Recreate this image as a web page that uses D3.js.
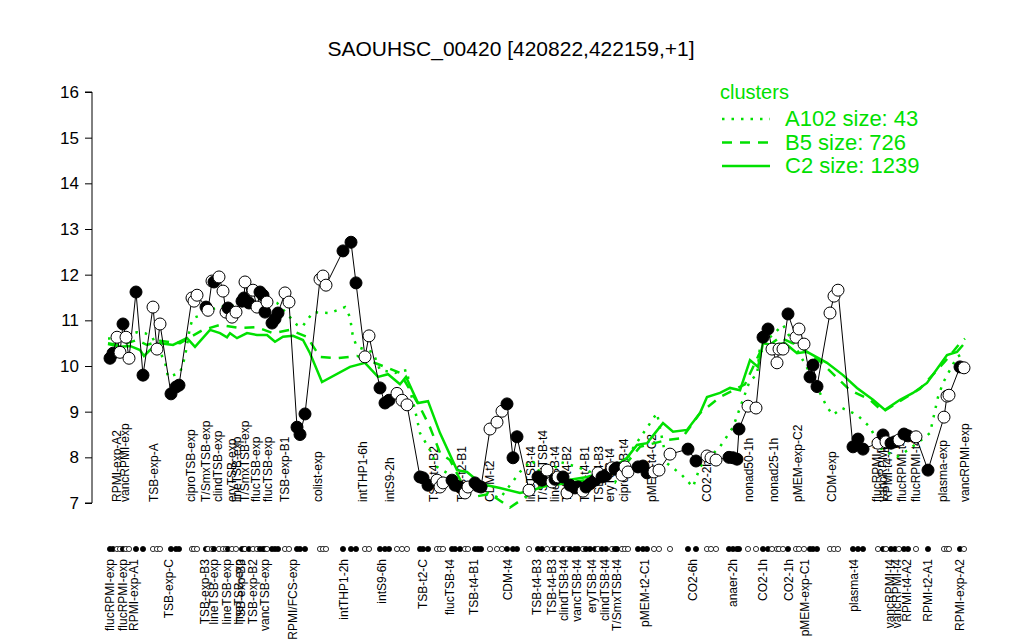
<!DOCTYPE html>
<html><head><meta charset="utf-8">
<script src="https://cdn.jsdelivr.net/npm/d3@7"></script>
<style>body{margin:0;background:#fff}svg{display:block;font-family:"Liberation Sans",Arial,sans-serif}</style>
</head><body><svg id="c" width="1024" height="640"></svg>
<script>
const title = "SAOUHSC_00420 [420822,422159,+1]";
const yTicks = [7,8,9,10,11,12,13,14,15,16];
// sample positions (arbitrary ordering units), expression values, filled flag
const pointPos = [10,13,17,20,23,26,29,36,43,53,57,60,71,76,79,92,94,97,106,108,112,114,119,123,126,128,132,136,142,144,145,149,153,157,160,163,165,167,172,175,178,185,189,197,200,205,220,223,226,243,251,256,265,269,280,285,289,297,302,307,320,323,328,337,340,343,352,355,360,365,368,375,378,381,390,397,402,407,413,417,429,438,442,447,452,455,458,463,467,470,475,478,483,486,490,495,498,502,506,512,515,517,522,525,528,538,543,547,554,559,570,588,596,607,611,616,629,633,637,639,648,656,663,668,672,677,679,683,688,696,699,704,710,713,717,730,734,738,753,758,763,778,783,786,791,795,799,804,808,816,828,844,847,849,860,864];
const pointVal = [10.17,10.28,10.63,10.30,10.92,10.63,10.17,11.62,9.80,11.29,10.37,10.92,9.39,9.54,9.58,11.49,11.42,11.55,11.29,11.22,11.86,11.84,11.95,11.64,11.18,11.27,11.07,11.18,11.42,11.49,11.84,11.38,11.66,11.29,11.62,11.55,11.18,11.40,10.94,11.03,11.16,11.60,11.40,8.66,8.50,8.95,11.90,11.97,11.77,12.52,12.71,11.82,10.20,10.66,9.52,9.19,9.25,9.40,9.25,9.15,7.57,7.55,7.39,7.50,7.35,7.44,7.50,7.39,7.35,7.22,7.35,7.44,7.37,7.35,8.62,8.77,9.01,9.17,7.99,8.45,7.28,7.57,7.50,7.72,7.46,7.52,7.57,7.57,7.22,7.39,7.33,7.35,7.26,7.35,7.42,7.50,7.66,7.57,7.61,7.77,7.74,7.77,7.61,7.79,7.68,7.79,7.81,7.66,7.68,7.72,8.07,8.18,7.92,8.03,7.99,7.94,8.00,7.99,7.96,8.62,9.12,9.08,10.63,10.81,10.37,10.07,10.37,10.37,11.14,10.63,10.81,10.48,9.76,10.02,9.55,11.16,11.53,11.66,8.23,8.40,8.18,8.31,8.49,8.34,8.31,8.34,8.38,8.51,8.47,8.45,7.72,8.88,9.34,9.36,9.98,9.96];
const pointFilled = [1,1,0,0,1,0,0,1,1,0,0,0,1,1,1,0,0,0,1,0,0,1,0,0,0,1,0,0,1,1,0,1,0,0,1,1,1,0,1,1,1,0,0,1,1,1,0,0,0,1,1,1,0,0,1,1,1,0,0,0,1,1,1,0,0,0,1,1,1,0,0,1,1,1,0,0,0,1,1,1,0,1,1,0,0,1,0,1,0,1,1,1,0,1,1,1,0,1,1,0,1,1,0,0,0,1,1,1,0,0,0,1,1,0,0,0,1,1,1,1,0,0,1,1,0,0,0,0,1,0,0,0,1,1,1,0,0,0,1,1,1,0,1,0,1,1,0,1,1,0,1,0,0,0,1,0];

const bottomLabelPos = [10,23,34,69,105,114,127,139,141,153,165,193,244,282,323,350,374,408,437,452,464,477,492,505,517,545,593,633,663,689,705,754,790,797,807,828,860];
const bottomLabels = ["flucRPMI-exp","flucRPMI-exp","RPMI-exp-A1","TSB-exp-C","TSB-exp-B3","lineTSB-exp","lineTSB-exp","lineTSB-exp","TSB-exp-B3","TSB-exp-B2","vancTSB-exp","RPMI/FCS-exp","intTHP1-2h","intS9-6h","TSB-t2-C","flucTSB-t4","TSB-t4-B1","CDM-t4","TSB-t4-B3","TSB-t4-B3","clindTSB-t4","vancTSB-t4","eryTSB-t4","clindTSB-t4","T/SmxTSB-t4","pMEM-t2-C1","CO2-6h","anaer-2h","CO2-1h","CO2-1h","pMEM-exp-C1","plasma-t4","vancRPMI-t4","vancRPMI-t4","RPMI-t4-A2","RPMI-t2-A1","RPMI-exp-A2"];

const topLabelPos = [17,25,54,91,106,118,132,137,145,156,168,185,218,263,290,334,362,390,431,443,455,467,485,499,510,524,552,607,649,674,698,732,777,783,788,802,816,843,865];
const topLabels = ["RPMI-exp-A2","vancRPMI-exp","TSB-exp-A","ciproTSB-exp","T/SmxTSB-exp","clindTSB-exp","eryTSB-exp","lineTSB-exp","T/SmxTSB-exp","flucTSB-exp","flucTSB-exp","TSB-exp-B1","colist-exp","intTHP1-6h","intS9-2h","TSB-t4-B2","TSB-t2-B1","CDM-t2","lineTSB-t4","T/SmxTSB-t4","lineTSB-t4","TSB-t4-B2","TSB-t4-B1","TSB-t4-B3","eryTSB-t4","ciproTSB-t4","pMEM-t4-C2","CO2-2h","nonad50-1h","nonad25-1h","pMEM-exp-C2","CDM-exp","flucRPMI-t4","vancRPMI-t4","RPMI-t4-A2","flucRPMI-t4","flucRPMI-t4","plasma-exp","vancRPMI-exp"];

const clusterNames = ["A102 size: 43","B5 size: 726","C2 size: 1239"];
const a102Pos = [8,20,37,45,52,65,68,80,85,90,93,102,117,140,157,177,197,202,213,230,245,250,253,257,273,280,295,307,310,315,320,330,337,347,360,380,400,420,432,445,460,477,500,515,533,557,567,582,593,600,620,633,650,657,660,683,710,727,733,742,757,770,782,797,808,817,830,838,843,857,865];
const a102Val = [10.6,10.6,10.74,10.72,10.64,10.09,9.76,9.85,10.2,10.85,11.05,11.12,11.29,11.33,11.49,11.38,10.9,10.85,11.18,11.16,11.29,11.07,10.63,10.42,10.3,9.91,9.85,9.91,9.47,9.04,8.53,8.16,7.79,7.66,7.45,7.3,7.1,7.68,7.94,7.5,7.9,7.79,7.6,7.45,8.2,8.97,7.87,7.61,7.35,7.79,8.23,8.66,9.69,9.8,10.42,10.9,9.85,9.1,8.93,9.08,8.93,8.66,8.16,8.01,8.16,8.31,8.53,9.32,9.63,10.2,10.3];
const b5Pos = [8,20,37,47,60,80,103,120,140,157,173,190,207,220,237,257,277,300,320,330,340,350,367,373,390,410,440,470,500,520,540,567,582,600,620,645,660,680,700,720,750,770,783,797,820,845,860,865];
const b5Val = [10.5,10.45,10.57,10.46,10.55,10.5,10.79,10.9,10.83,10.85,10.72,10.79,10.64,10.2,10.17,10.22,10.05,9.85,9.1,8.66,8.1,7.94,7.22,7.13,7.2,6.9,7.35,7.45,7.55,7.7,8.23,8.38,8.42,8.97,9.32,9.6,10.3,10.63,10.42,10.1,9.47,9.26,9.0,9.19,9.5,10.1,10.5,10.6];
const c2Pos = [8,20,30,40,44,50,60,73,87,95,110,120,127,130,137,147,157,167,175,183,193,203,210,222,250,265,278,288,300,306,318,328,340,357,367,377,387,400,420,433,453,467,487,510,527,537,547,555,563,573,587,600,607,620,630,640,650,658,663,673,685,697,707,727,743,757,773,785,800,813,827,847,857,863];
const c2Val = [10.48,10.42,10.44,10.35,10.22,10.35,10.5,10.46,10.61,10.42,10.79,10.72,10.63,10.72,10.61,10.72,10.68,10.68,10.53,10.64,10.66,10.57,10.28,9.65,9.98,10.07,9.76,9.82,9.6,9.76,9.19,9.23,8.53,7.72,7.68,7.5,7.39,7.33,7.22,7.28,7.44,7.5,7.57,7.72,7.99,8.27,8.31,8.53,8.75,8.56,8.6,8.97,9.32,9.41,9.52,9.47,10.13,9.98,10.5,10.46,10.5,10.28,10.31,10.07,9.8,9.52,9.26,9.04,9.26,9.41,9.63,10.24,10.31,10.46];

const green = "#00e000";
const svg = d3.select("#c");
const x = d3.scaleLinear().domain([0, 870]).range([100, 970]);
const y = d3.scaleLinear().domain([7, 16]).range([503, 92]);

svg.append("text").attr("x", 511).attr("y", 56).attr("text-anchor", "middle")
  .attr("font-size", 21).text(title);

const yAxis = svg.append("g").attr("transform", "translate(92,0)")
  .call(d3.axisLeft(y).tickValues(yTicks).tickSize(7).tickPadding(6).tickFormat(d3.format("d")));
yAxis.select(".domain").attr("d", `M-7,${y(7)}H0V${y(16)}H-7`).attr("stroke", "#000");
yAxis.selectAll("text").attr("font-size", 17).attr("font-family", "Liberation Sans, Arial, sans-serif");

// labels inside the plot
svg.append("g").selectAll("text").data(topLabels).join("text")
  .attr("transform", (d, i) => `translate(${x(topLabelPos[i])},502) rotate(-90)`)
  .attr("dy", "0.35em").attr("font-size", 12).text(d => d);

// cluster lines
const mk = (pos, val) => pos.map((p, i) => [x(p), y(val[i])]);
const line = d3.line();
svg.append("path").attr("d", line(mk(a102Pos, a102Val))).attr("fill", "none")
  .attr("stroke", green).attr("stroke-width", 2.5).attr("stroke-dasharray", "2.5 7");
svg.append("path").attr("d", line(mk(b5Pos, b5Val))).attr("fill", "none")
  .attr("stroke", green).attr("stroke-width", 2.5).attr("stroke-dasharray", "10 8");
svg.append("path").attr("d", line(mk(c2Pos, c2Val))).attr("fill", "none")
  .attr("stroke", green).attr("stroke-width", 2.5);

// expression line and points
const pts = pointPos.map((p, i) => ({x: x(p), y: y(pointVal[i]), f: pointFilled[i]}));
svg.append("path").attr("d", d3.line().x(d => d.x).y(d => d.y)(pts))
  .attr("fill", "none").attr("stroke", "#000").attr("stroke-width", 1);
svg.append("g").selectAll("circle").data(pts).join("circle")
  .attr("cx", d => d.x).attr("cy", d => d.y).attr("r", 6)
  .attr("fill", d => d.f ? "#000" : "#fff").attr("stroke", "#000").attr("stroke-width", 1);

// marker row
svg.append("g").selectAll("circle").data(pts).join("circle")
  .attr("cx", d => d.x).attr("cy", 549).attr("r", 2.6)
  .attr("fill", d => d.f ? "#000" : "#fff").attr("stroke", "#000").attr("stroke-width", 0.8);

// bottom labels
svg.append("g").selectAll("text").data(bottomLabels).join("text")
  .attr("transform", (d, i) => `translate(${x(bottomLabelPos[i])},559) rotate(-90)`)
  .attr("text-anchor", "end").attr("dy", "0.35em").attr("font-size", 12).text(d => d);

// legend
const lg = svg.append("g").attr("fill", green);
lg.append("text").attr("x", 720).attr("y", 99).attr("font-size", 20).text("clusters");
const dashes = ["2.5 7", "10 8", null];
clusterNames.forEach((n, i) => {
  const yy = 119 + i * 23.5;
  lg.append("line").attr("x1", 722).attr("x2", 770).attr("y1", yy).attr("y2", yy)
    .attr("stroke", green).attr("stroke-width", 2.5).attr("stroke-dasharray", dashes[i]);
  lg.append("text").attr("x", 785).attr("y", yy + 7).attr("font-size", 22).text(n);
});
</script></body></html>
